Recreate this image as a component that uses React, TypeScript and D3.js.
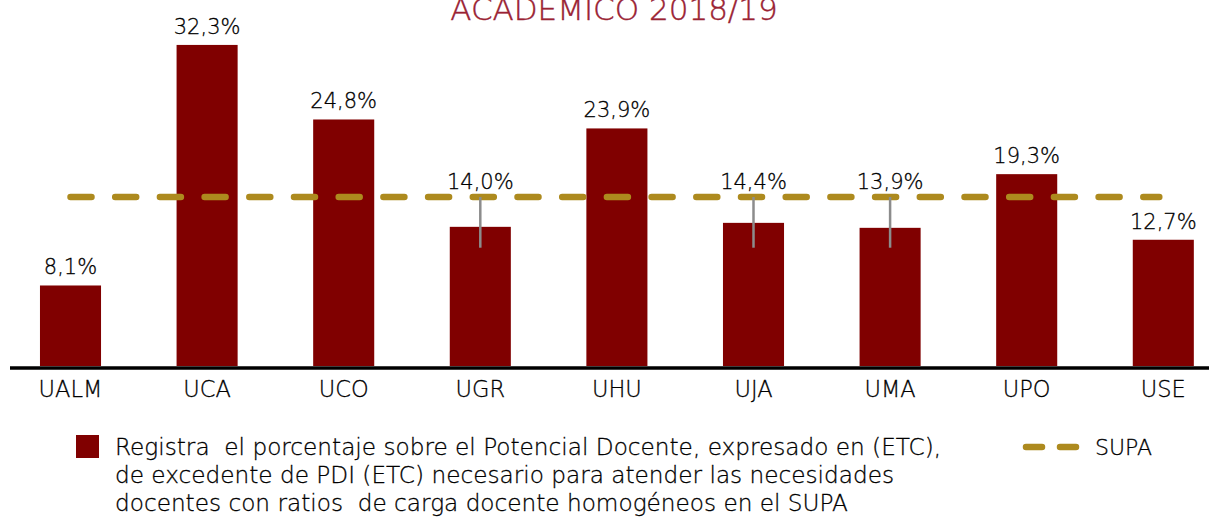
import React from "react";
import * as d3 from "d3";

const categories = ["UALM", "UCA", "UCO", "UGR", "UHU", "UJA", "UMA", "UPO", "USE"];
const values = [8.1, 32.3, 24.8, 14.0, 23.9, 14.4, 13.9, 19.3, 12.7];
const errHigh = [null, null, null, 17.0, null, 17.0, 17.0, null, null];
const errLow = [null, null, null, 11.9, null, 11.9, 11.9, null, null];
const supaValue = 17.0;
const titleText = "ACADEMICO 2018/19";
const legendBarLines = [
  "Registra  el porcentaje sobre el Potencial Docente, expresado en (ETC),",
  "de excedente de PDI (ETC) necesario para atender las necesidades",
  "docentes con ratios  de carga docente homogéneos en el SUPA",
];
const legendLineLabel = "SUPA";

const W = 1209;
const H = 517;
const FONT = "'DejaVu Sans', sans-serif";
const BAR = "#800000";
const GOLD = "#ad8a1e";
const TXT = "#000";

export default function App() {
  const x = d3.scaleBand<string>().domain(categories).range([2.2, 1231.6]).paddingInner(0.553).paddingOuter(0.2765);
  const y = d3.scaleLinear().domain([0, 36.82]).range([366, 0]);
  const fmt = (v: number) => v.toFixed(1).replace(".", ",") + "%";
  const cx = (c: string) => (x(c) as number) + x.bandwidth() / 2;

  const supaLine = d3.line<number>().x((d) => d).y(() => y(supaValue));
  const supaXs = [cx(categories[0]), cx(categories[categories.length - 1]) - 4];

  return (
    <svg width={W} height={H} style={{ position: "absolute", left: 0, top: 0, background: "#fff" }}>
      <text x={614} y={20} textAnchor="middle" fontFamily={FONT} fontWeight={200} fontSize={31} fill="#9a2233" stroke="#9a2233" strokeWidth={0.4}>
        {titleText}
      </text>
      {categories.map((c, i) => (
        <rect key={c} x={x(c)} y={y(values[i])} width={x.bandwidth()} height={y(0) - y(values[i])} fill={BAR} />
      ))}
      <path d={supaLine(supaXs) || ""} stroke={GOLD} strokeWidth={6.5} strokeLinecap="round" strokeDasharray="21 23.7" fill="none" />
      {categories.map((c, i) =>
        errHigh[i] != null ? (
          <line key={"e" + c} x1={cx(c)} x2={cx(c)} y1={y(errHigh[i] as number)} y2={y(errLow[i] as number)} stroke="#8c8c8c" strokeWidth={2.5} />
        ) : null
      )}
      {categories.map((c, i) => {
        const top = errHigh[i] != null ? y(errHigh[i] as number) - 8 : y(values[i]) - 11;
        return (
          <text key={"l" + c} x={cx(c)} y={top} textAnchor="middle" fontFamily={FONT} fontWeight={200} fontSize={21} fill={TXT} stroke={TXT} strokeWidth={0.3}>
            {fmt(values[i])}
          </text>
        );
      })}
      <line x1={10} x2={W} y1={368} y2={368} stroke="#000" strokeWidth={3.5} />
      {categories.map((c) => (
        <text key={"c" + c} x={cx(c)} y={397} textAnchor="middle" fontFamily={FONT} fontWeight={200} fontSize={22.5} fill={TXT} stroke={TXT} strokeWidth={0.3}>
          {c}
        </text>
      ))}
      <rect x={76} y={435} width={23} height={23} fill={BAR} />
      {legendBarLines.map((t, i) => (
        <text key={"lg" + i} x={115} y={455 + i * 28} fontFamily={FONT} fontWeight={200} fontSize={23.2} fill={TXT} stroke={TXT} strokeWidth={0.3} style={{ whiteSpace: "pre" }}>
          {t}
        </text>
      ))}
      <line x1={1026} x2={1080} y1={447} y2={447} stroke={GOLD} strokeWidth={6.5} strokeLinecap="round" strokeDasharray="16 18" />
      <text x={1095} y={455} fontFamily={FONT} fontWeight={200} fontSize={22} fill={TXT} stroke={TXT} strokeWidth={0.3}>
        {legendLineLabel}
      </text>
    </svg>
  );
}
